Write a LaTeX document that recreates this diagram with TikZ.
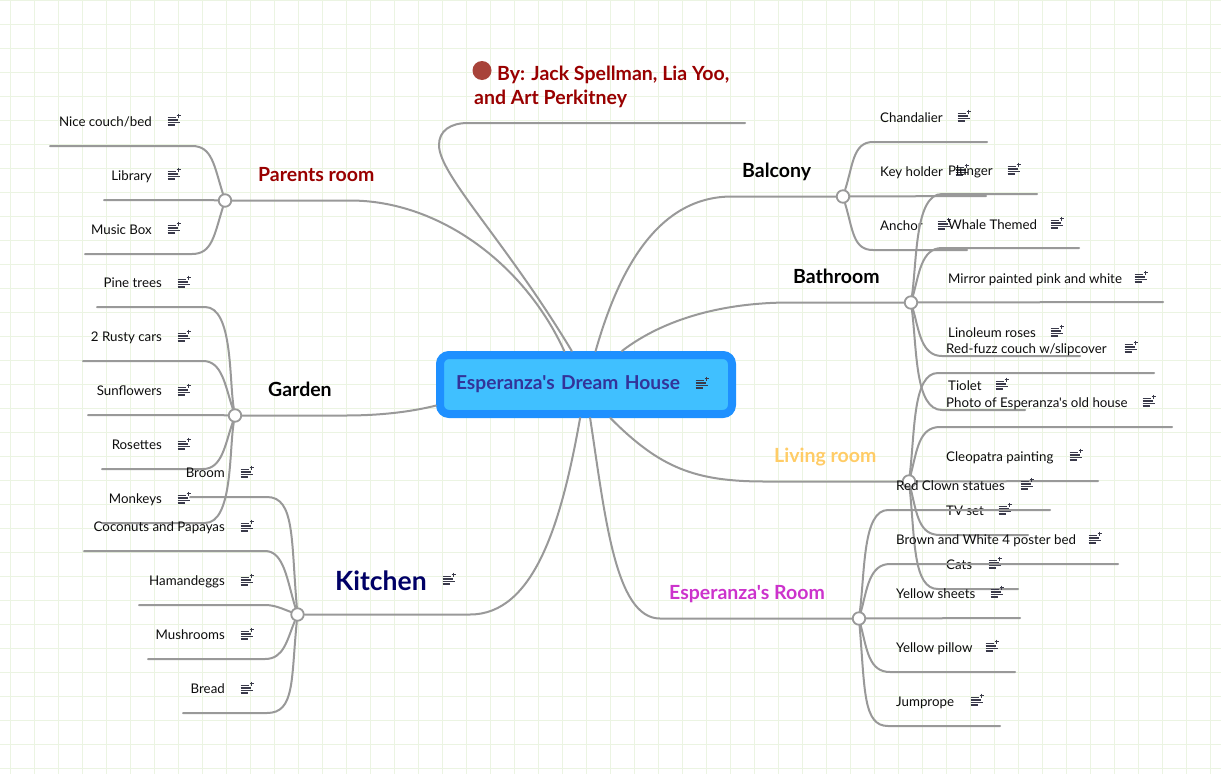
\documentclass[tikz,border=0pt]{standalone}
\usepackage{fontspec}
\setmainfont{Lato}[Ligatures=TeXOff]
\usepackage{xcolor}
\usetikzlibrary{arrows.meta, calc}
\definecolor{gridgreen}{HTML}{EBF4E2}
\definecolor{branchgray}{HTML}{999999}
\definecolor{boxblue}{HTML}{1E90FF}
\definecolor{boxfill}{HTML}{40C0FF}
\definecolor{titleblue}{HTML}{333399}
\definecolor{parentred}{HTML}{990000}
\definecolor{livingyellow}{HTML}{FFCC66}
\definecolor{roompurple}{HTML}{CC33CC}
\definecolor{kitchenblue}{HTML}{000066}
\definecolor{dotred}{HTML}{A8433A}
\definecolor{iconink}{HTML}{3A3A4A}
\tikzset{
  branch/.style={draw=branchgray, line width=2pt, line cap=round},
  hubdot/.style={circle, draw=branchgray, fill=white, line width=1.8pt, minimum size=12.5pt, inner sep=0pt},
  leaftext/.style={inner sep=0pt, yshift=-1pt, text=black!95, font=\fontsize{13.3}{15}\selectfont},
  lefttext/.style={leaftext, anchor=base east},
  righttext/.style={leaftext, anchor=base west},
  topic/.style={inner sep=0pt, yshift=-1pt, anchor=base west, font=\fontsize{19.5}{22}\selectfont\bfseries},
  noteicon/.pic={
    \draw[iconink, line width=1.2pt] (-6.5,-3.5) -- (2,-3.5) (-6.5,-1) -- (4,-1) (-6.5,1.5) -- (5.5,1.5) (-6.5,4) -- (1,4);
    \draw[iconink, line width=1.1pt] (2.5,-5.5) -- (6.5,-5.5) (4.5,-7.5) -- (4.5,-3.5);
  }
}
\begin{document}
\begin{tikzpicture}[x=1pt, y=-1pt]
  \useasboundingbox (0,0) rectangle (1221,774);
  \fill[white] (0,0) rectangle (1221,774);
  \draw[gridgreen, line width=0.8pt, shift={(10,0)}, step=24pt] (-10,0) grid (1211,774);

  % central topic
  \node[draw=boxblue, fill=boxfill, line width=8pt, rounded corners=9pt, minimum height=59pt,
    inner xsep=16pt, text width=260pt, align=left, text=titleblue,
    font=\fontsize{19.2}{22}\selectfont\bfseries] (dream) at (586,384.5) {\raisebox{-1.5pt}{Esperanza's Dream House}};
  \pic at (702,384) {noteicon};

  % hubs
  \node[hubdot] (parentshub) at (225,200.5) {};
  \node[hubdot] (gardenhub) at (235,415.5) {};
  \node[hubdot] (kitchenhub) at (297.5,614.5) {};
  \node[hubdot] (balconyhub) at (843,196.5) {};
  \node[hubdot] (bathroomhub) at (911,302.5) {};
  \node[hubdot] (livinghub) at (909,481.5) {};
  \node[hubdot] (roomhub) at (859,618.5) {};

  % main branches
  \coordinate (byend) at (745,123);
  \draw[branch] (dream.113) .. controls (505,240) and (439,175) .. (439,145) .. controls (439,131) and (450,123) .. (468,123) -- (byend);
  \draw[branch] (parentshub) -- (350,200.5) .. controls (440,200.5) and (525,265) .. (dream.123);
  \draw[branch] (gardenhub) -- (345,415.5) .. controls (380,415.5) and (410,412) .. (dream.188.7);
  \draw[branch] (kitchenhub) -- (470,614.5) .. controls (535,614.5) and (562,520) .. (dream.260);
  \draw[branch] (balconyhub) -- (732,196.5) .. controls (660,196.5) and (620,265) .. (dream.74.5);
  \draw[branch] (bathroomhub) -- (790,302.5) .. controls (725,302.5) and (665,318) .. (dream.43.7);
  \draw[branch] (livinghub) -- (765,481.5) .. controls (695,481.5) and (660,468) .. (dream.306);
  \draw[branch] (roomhub) -- (660,618.5) .. controls (615,618.5) and (605,515) .. (dream.277);

  % topic labels
  \node[topic, text=parentred] (parents) at (258,180.5) {Parents room};
  \node[topic, text=black] (garden) at (268,395.5) {Garden};
  \node[topic, text=kitchenblue, font=\fontsize{26.5}{30}\selectfont\bfseries] (kitchen) at (335,589) {Kitchen};
  \pic at (449,580) {noteicon};
  \node[topic, text=black] (balcony) at (742,176.5) {Balcony};
  \node[topic, text=black] (bathroom) at (793,282.5) {Bathroom};
  \node[topic, text=livingyellow] (living) at (774,461.5) {Living room};
  \node[topic, text=roompurple] (room) at (669,598.5) {Esperanza's Room};

  % by line
  \fill[dotred] (482,70.5) circle (9.5);
  \node[topic, text=parentred] (byline) at (497,79.5) {By: Jack Spellman, Lia Yoo,};
  \node[topic, text=parentred] (byline2) at (474,103.5) {and Art Perkitney};

  % parents room
  \coordinate (couchend) at (50,146);
  \draw[branch] (parentshub) .. controls (214,165) and (212,146) .. (192,146) -- (couchend);
  \node[lefttext] (couch) at (152,125.5) {Nice couch/bed};
  \pic at (174,121) {noteicon};
  \coordinate (libraryend) at (104,200);
  \draw[branch] (parentshub) .. controls (205,200) and (180,200) .. (libraryend);
  \node[lefttext] (library) at (152,179.5) {Library};
  \pic at (174,175) {noteicon};
  \coordinate (musicend) at (85,254);
  \draw[branch] (parentshub) .. controls (214,236) and (212,254) .. (192,254) -- (musicend);
  \node[lefttext] (music) at (152,233.5) {Music Box};
  \pic at (174,229) {noteicon};

  % garden
  \coordinate (pineend) at (97,307);
  \draw[branch] (gardenhub) .. controls (229,380) and (233,307) .. (205,307) -- (pineend);
  \node[lefttext] (pine) at (162,286.5) {Pine trees};
  \pic at (184,283) {noteicon};
  \coordinate (carsend) at (83,361);
  \draw[branch] (gardenhub) .. controls (225,385) and (222,361) .. (203,361) -- (carsend);
  \node[lefttext] (cars) at (162,340.5) {2 Rusty cars};
  \pic at (184,337) {noteicon};
  \coordinate (sunend) at (88,415);
  \draw[branch] (gardenhub) .. controls (215,415) and (190,415) .. (sunend);
  \node[lefttext] (sun) at (162,394.5) {Sunflowers};
  \pic at (184,391) {noteicon};
  \coordinate (rosend) at (102,469);
  \draw[branch] (gardenhub) .. controls (225,445) and (222,469) .. (203,469) -- (rosend);
  \node[lefttext] (rosettes) at (162,448.5) {Rosettes};
  \pic at (184,445) {noteicon};
  \coordinate (monkeyend) at (102,523);
  \draw[branch] (gardenhub) .. controls (229,450) and (233,523) .. (205,523) -- (monkeyend);
  \node[lefttext] (monkeys) at (162,502.5) {Monkeys};
  \pic at (184,499) {noteicon};

  % kitchen
  \coordinate (broomend) at (190,497);
  \draw[branch] (kitchenhub) .. controls (291,540) and (295,497) .. (267,497) -- (broomend);
  \node[lefttext] (broom) at (225,476.5) {Broom};
  \pic at (247,473) {noteicon};
  \coordinate (coconutend) at (84,551);
  \draw[branch] (kitchenhub) .. controls (287,580) and (284,551) .. (265,551) -- (coconutend);
  \node[lefttext] (coconut) at (225,530.5) {Coconuts and Papayas};
  \pic at (247,527) {noteicon};
  \coordinate (hamend) at (139,605);
  \draw[branch] (kitchenhub) .. controls (283,609) and (275,605) .. (265,605) -- (hamend);
  \node[lefttext] (ham) at (225,584.5) {Hamandeggs};
  \pic at (247,581) {noteicon};
  \coordinate (mushend) at (148,659);
  \draw[branch] (kitchenhub) .. controls (287,640) and (284,659) .. (265,659) -- (mushend);
  \node[lefttext] (mush) at (225,638.5) {Mushrooms};
  \pic at (247,635) {noteicon};
  \coordinate (breadend) at (183,713);
  \draw[branch] (kitchenhub) .. controls (291,680) and (295,713) .. (267,713) -- (breadend);
  \node[lefttext] (bread) at (225,692.5) {Bread};
  \pic at (247,689) {noteicon};

  % balcony
  \coordinate (chandend) at (987,142);
  \draw[branch] (balconyhub) .. controls (853,165) and (853,142) .. (873,142) -- (chandend);
  \node[righttext] (chand) at (880,121.5) {Chandalier};
  \pic at (964,117) {noteicon};
  \coordinate (keyend) at (986,196);
  \draw[branch] (balconyhub) -- (keyend);
  \node[righttext] (key) at (880,175.5) {Key holder};
  \pic at (962,171) {noteicon};
  \coordinate (anchorend) at (967,250);
  \draw[branch] (balconyhub) .. controls (853,230) and (853,250) .. (873,250) -- (anchorend);
  \node[righttext] (anchorleaf) at (880,229.5) {Anchor};
  \pic at (944,225) {noteicon};

  % bathroom
  \coordinate (plungerend) at (1037,194);
  \draw[branch] (bathroomhub) .. controls (917,260) and (915,194) .. (942,194) -- (plungerend);
  \node[righttext] (plunger) at (948,174.5) {Plunger};
  \pic at (1014,170) {noteicon};
  \coordinate (whaleend) at (1079,248);
  \draw[branch] (bathroomhub) .. controls (919,275) and (921,248) .. (942,248) -- (whaleend);
  \node[righttext] (whale) at (948,228.5) {Whale Themed};
  \pic at (1057,224) {noteicon};
  \coordinate (mirrorend) at (1163,302);
  \draw[branch] (bathroomhub) -- (mirrorend);
  \node[righttext] (mirror) at (948,282) {Mirror painted pink and white};
  \pic at (1141,278) {noteicon};
  \coordinate (linoend) at (1080,356);
  \draw[branch] (bathroomhub) .. controls (919,330) and (921,356) .. (942,356) -- (linoend);
  \node[righttext] (lino) at (948,336.5) {Linoleum roses};
  \pic at (1057,332) {noteicon};
  \coordinate (tioletend) at (1025,410);
  \draw[branch] (bathroomhub) .. controls (917,350) and (915,410) .. (942,410) -- (tioletend);
  \node[righttext] (tiolet) at (948,389.5) {Tiolet};
  \pic at (1002,385) {noteicon};

  % living room
  \coordinate (fuzzend) at (1154,373);
  \draw[branch] (livinghub) .. controls (915,430) and (913,373) .. (938,373) -- (fuzzend);
  \node[righttext] (fuzz) at (946,352.5) {Red-fuzz couch w/slipcover};
  \pic at (1131,348) {noteicon};
  \coordinate (photoend) at (1172,427);
  \draw[branch] (livinghub) .. controls (917,450) and (919,427) .. (940,427) -- (photoend);
  \node[righttext] (photo) at (946,406.5) {Photo of Esperanza's old house};
  \pic at (1149,402) {noteicon};
  \coordinate (cleoend) at (1098,481);
  \draw[branch] (livinghub) -- (cleoend);
  \node[righttext] (cleo) at (946,460.5) {Cleopatra painting};
  \pic at (1076,456) {noteicon};
  \coordinate (tvend) at (1028,535);
  \draw[branch] (livinghub) .. controls (917,515) and (919,535) .. (940,535) -- (tvend);
  \node[righttext] (tv) at (946,514.5) {TV set};
  \pic at (1005,510) {noteicon};
  \coordinate (catsend) at (1018,589);
  \draw[branch] (livinghub) .. controls (915,540) and (913,589) .. (938,589) -- (catsend);
  \node[righttext] (cats) at (946,568.5) {Cats};
  \pic at (995,564) {noteicon};

  % esperanza's room
  \coordinate (clownend) at (1050,510);
  \draw[branch] (roomhub) .. controls (865,570) and (863,510) .. (888,510) -- (clownend);
  \node[righttext] (clown) at (896,489.5) {Red Clown statues};
  \pic at (1027,485) {noteicon};
  \coordinate (bedend) at (1118,564);
  \draw[branch] (roomhub) .. controls (867,590) and (869,564) .. (890,564) -- (bedend);
  \node[righttext] (bed) at (896,543.5) {Brown and White 4 poster bed};
  \pic at (1095,539) {noteicon};
  \coordinate (sheetsend) at (1020,618);
  \draw[branch] (roomhub) -- (sheetsend);
  \node[righttext] (sheets) at (896,597.5) {Yellow sheets};
  \pic at (997,593) {noteicon};
  \coordinate (pillowend) at (1015,672);
  \draw[branch] (roomhub) .. controls (867,650) and (869,672) .. (890,672) -- (pillowend);
  \node[righttext] (pillow) at (896,651.5) {Yellow pillow};
  \pic at (992,647) {noteicon};
  \coordinate (ropeend) at (1000,726);
  \draw[branch] (roomhub) .. controls (865,690) and (863,726) .. (888,726) -- (ropeend);
  \node[righttext] (rope) at (896,705.5) {Jumprope};
  \pic at (977,701) {noteicon};
\end{tikzpicture}
\end{document}
